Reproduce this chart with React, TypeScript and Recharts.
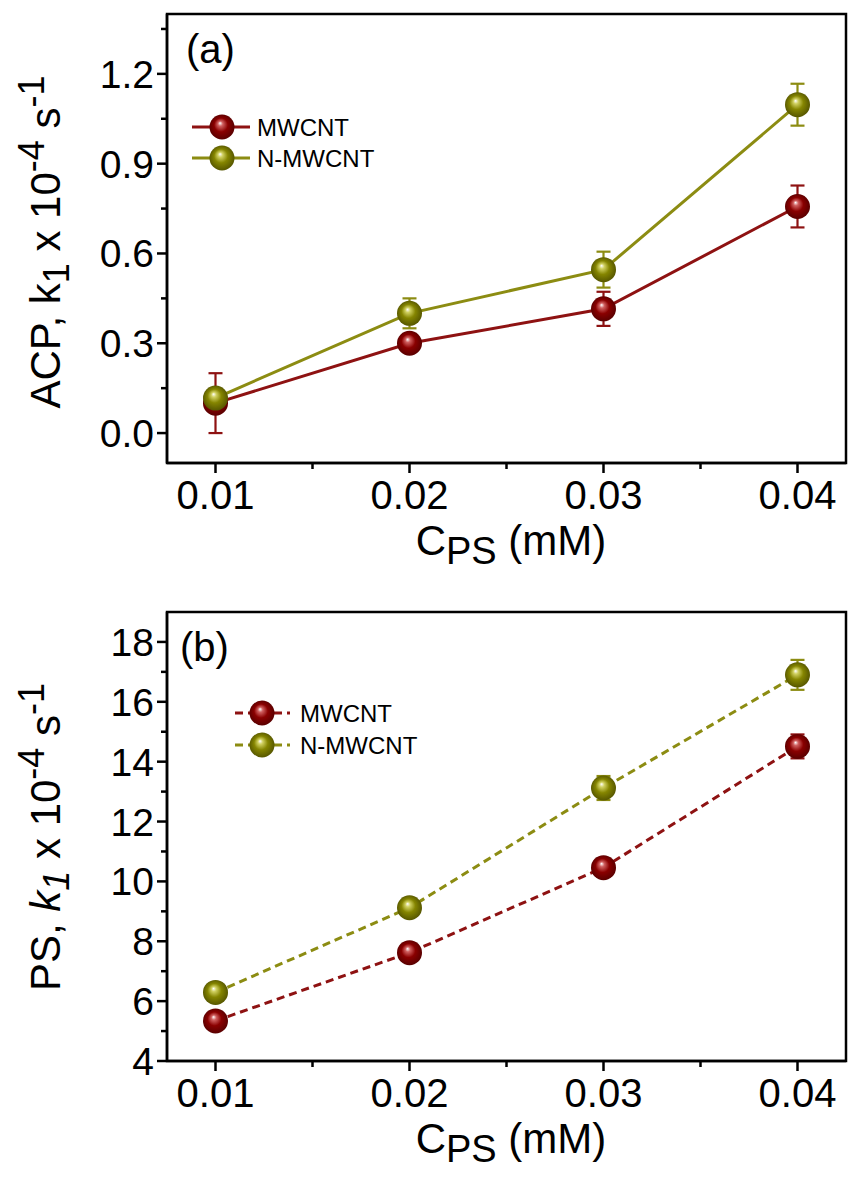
import React from 'react';
import { LineChart, Line, XAxis, YAxis, ErrorBar, ReferenceArea } from 'recharts';

// concentration of PS (mM)
const cps = [0.01, 0.02, 0.03, 0.04];

// (a) ACP, k1 x 10^-4 s^-1
const acpMwcnt = [0.1, 0.3, 0.415, 0.757];
const acpMwcntErr = [0.1, 0.02, 0.057, 0.07];
const acpNMwcnt = [0.117, 0.4, 0.546, 1.097];
const acpNMwcntErr = [0.02, 0.05, 0.06, 0.07];

// (b) PS, k1 x 10^-4 s^-1
const psMwcnt = [5.34, 7.62, 10.46, 14.51];
const psMwcntErr = [0.25, 0.25, 0.3, 0.4];
const psNMwcnt = [6.29, 9.12, 13.12, 16.9];
const psNMwcntErr = [0.25, 0.25, 0.4, 0.5];

const seriesNames = ['MWCNT', 'N-MWCNT'];

const xTicks = [0.01, 0.015, 0.02, 0.025, 0.03, 0.035, 0.04];
const xMajor = [0.01, 0.02, 0.03, 0.04];
const acpTicks = [0, 0.15, 0.3, 0.45, 0.6, 0.75, 0.9, 1.05, 1.2, 1.35];
const acpMajor = [0, 0.3, 0.6, 0.9, 1.2];
const psTicks = [4, 5, 6, 7, 8, 9, 10, 11, 12, 13, 14, 15, 16, 17, 18];
const psMajor = [4, 6, 8, 10, 12, 14, 16, 18];

const X_DOMAIN: [number, number] = [0.0075, 0.0425];
const W = 848;
const H = 595;
const PL = 167;
const PT = 14;
const PR = 846;
const PB = 463;
const FONT = '"Liberation Sans", Arial, Helvetica, sans-serif';
const RED = '#8e1212';
const OLIVE = '#8c8c12';
const RED_DOT = ['#ffffff', '#d06060', '#8a0000', '#520000'];
const OLIVE_DOT = ['#ffffff', '#d0d060', '#858500', '#4f4f00'];

const isMajor = (v: number, majors: number[]) => majors.some((m) => Math.abs(m - v) < 1e-9);

function Sphere({ cx, cy, id, stops }: { cx: number; cy: number; id: string; stops: string[] }) {
  return (
    <g>
      <defs>
        <radialGradient id={id} cx="0.5" cy="0.5" r="0.55" fx="0.42" fy="0.34">
          <stop offset="0" stopColor={stops[0]} />
          <stop offset="0.18" stopColor={stops[1]} />
          <stop offset="0.5" stopColor={stops[2]} />
          <stop offset="1" stopColor={stops[3]} />
        </radialGradient>
      </defs>
      <circle cx={cx} cy={cy} r={12.5} fill={`url(#${id})`} />
    </g>
  );
}

const makeXTick = () => (props: any) => {
  const { x, payload } = props;
  const v = payload.value as number;
  const major = isMajor(v, xMajor);
  return (
    <g>
      <line x1={x} x2={x} y1={PB} y2={PB + (major ? 10 : 6)} stroke="#000" strokeWidth={2.5} />
      {major && (
        <text x={x} y={PB + 46} textAnchor="middle" fontSize={40} fontFamily={FONT} fill="#000">
          {v.toFixed(2)}
        </text>
      )}
    </g>
  );
};

const makeYTick = (majors: number[], fmt: (v: number) => string) => (props: any) => {
  const { y, payload } = props;
  const v = payload.value as number;
  const major = isMajor(v, majors);
  return (
    <g>
      <line x1={PL} x2={PL - (major ? 10 : 6)} y1={y} y2={y} stroke="#000" strokeWidth={2.5} />
      {major && (
        <text x={154} y={y + 14} textAnchor="end" fontSize={39} fontFamily={FONT} fill="#000">
          {fmt(v)}
        </text>
      )}
    </g>
  );
};

const xTitle = () => (
  <text x={511} y={555} textAnchor="middle" fontSize={42} fontFamily={FONT} fill="#000">
    C
    <tspan fontSize={38} dy={9}>PS</tspan>
    <tspan fontSize={42} dy={-9}> (mM)</tspan>
  </text>
);

const yTitle = (prefix: string, italicK: boolean, cy: number) => () => (
  <text
    transform={`translate(60,${cy}) rotate(-90)`}
    textAnchor="middle"
    fontSize={42}
    fontFamily={FONT}
    fill="#000"
  >
    {prefix}
    <tspan fontStyle={italicK ? 'italic' : 'normal'}>k</tspan>
    <tspan fontSize={36} dy={9} fontStyle={italicK ? 'italic' : 'normal'}>1</tspan>
    <tspan fontSize={42} dy={-9}> x 10</tspan>
    <tspan fontSize={36} dy={-16}>-4</tspan>
    <tspan fontSize={42} dy={16}> s</tspan>
    <tspan fontSize={36} dy={-16}>-1</tspan>
  </text>
);

const panelDecor = (
  key: string,
  letter: string,
  dashed: boolean,
  lx: [number, number],
  mx: number,
  tx: number,
  ly: [number, number],
) => () => (
  <g fontFamily={FONT}>
    <text x={dashed ? 180 : 186} y={63} fontSize={40} fill="#000">
      {letter}
    </text>
    {seriesNames.map((name, i) => (
      <g key={name}>
        <line
          x1={lx[0]}
          x2={lx[1]}
          y1={ly[i]}
          y2={ly[i]}
          stroke={i === 0 ? RED : OLIVE}
          strokeWidth={3}
          strokeDasharray={dashed ? '8 5' : undefined}
        />
        <Sphere cx={mx} cy={ly[i]} id={`leg${key}${i}`} stops={i === 0 ? RED_DOT : OLIVE_DOT} />
        <text x={tx} y={ly[i] + 9} fontSize={24} fill="#000">
          {name}
        </text>
      </g>
    ))}
  </g>
);

interface PanelProps {
  id: string;
  mw: number[];
  mwErr: number[];
  nmw: number[];
  nmwErr: number[];
  yDomain: [number, number];
  yTicks: number[];
  yMajor: number[];
  fmt: (v: number) => string;
  letter: string;
  dashed: boolean;
  yPrefix: string;
  italicK: boolean;
  titleCy: number;
  legend: { lx: [number, number]; mx: number; tx: number; ly: [number, number] };
}

function Panel(p: PanelProps) {
  const rows = cps.map((x, i) => ({
    x,
    mw: p.mw[i],
    mwErr: p.mwErr[i],
    nmw: p.nmw[i],
    nmwErr: p.nmwErr[i],
  }));
  const frame = { stroke: '#000', strokeWidth: 2.5 };
  const dash = p.dashed ? '8 5' : undefined;
  return (
    <LineChart width={W} height={H} data={rows} margin={{ top: PT, right: W - PR, bottom: 0, left: 0 }}>
      <XAxis
        type="number"
        dataKey="x"
        domain={X_DOMAIN}
        ticks={xTicks}
        interval={0}
        height={H - PB}
        tickLine={false}
        axisLine={frame}
        tick={makeXTick()}
        allowDataOverflow
        label={xTitle}
      />
      <YAxis
        type="number"
        domain={p.yDomain}
        ticks={p.yTicks}
        interval={0}
        width={PL}
        tickLine={false}
        axisLine={frame}
        tick={makeYTick(p.yMajor, p.fmt)}
        allowDataOverflow
        label={yTitle(p.yPrefix, p.italicK, p.titleCy)}
      />
      <ReferenceArea
        x1={X_DOMAIN[0]}
        x2={X_DOMAIN[1]}
        y1={p.yDomain[0]}
        y2={p.yDomain[1]}
        fill="none"
        fillOpacity={0}
        stroke="#000"
        strokeWidth={2.5}
        ifOverflow="visible"
        label={panelDecor(p.id, p.letter, p.dashed, p.legend.lx, p.legend.mx, p.legend.tx, p.legend.ly)}
      />
      <Line
        dataKey="mw"
        stroke={RED}
        strokeWidth={3}
        strokeDasharray={dash}
        isAnimationActive={false}
        activeDot={false}
        dot={(d: any) => (
          <Sphere key={`mw${d.index}`} cx={d.cx} cy={d.cy} id={`mw${p.id}${d.index}`} stops={RED_DOT} />
        )}
      >
        <ErrorBar dataKey="mwErr" direction="y" width={7} stroke={RED} strokeWidth={2.2} isAnimationActive={false} />
      </Line>
      <Line
        dataKey="nmw"
        stroke={OLIVE}
        strokeWidth={3}
        strokeDasharray={dash}
        isAnimationActive={false}
        activeDot={false}
        dot={(d: any) => (
          <Sphere key={`nmw${d.index}`} cx={d.cx} cy={d.cy} id={`nmw${p.id}${d.index}`} stops={OLIVE_DOT} />
        )}
      >
        <ErrorBar dataKey="nmwErr" direction="y" width={7} stroke={OLIVE} strokeWidth={2.2} isAnimationActive={false} />
      </Line>
    </LineChart>
  );
}

export default function App() {
  return (
    <div style={{ position: 'absolute', left: 0, top: 0, width: W, height: 1189, background: '#fff' }}>
      <div style={{ position: 'absolute', left: 0, top: 0 }}>
        <Panel
          id="A"
          mw={acpMwcnt}
          mwErr={acpMwcntErr}
          nmw={acpNMwcnt}
          nmwErr={acpNMwcntErr}
          yDomain={[-0.1, 1.4]}
          yTicks={acpTicks}
          yMajor={acpMajor}
          fmt={(v) => v.toFixed(1)}
          letter="(a)"
          dashed={false}
          yPrefix="ACP, "
          italicK={false}
          titleCy={242}
          legend={{ lx: [192, 250], mx: 222, tx: 257, ly: [127, 158] }}
        />
      </div>
      <div style={{ position: 'absolute', left: 0, top: 598 }}>
        <Panel
          id="B"
          mw={psMwcnt}
          mwErr={psMwcntErr}
          nmw={psNMwcnt}
          nmwErr={psNMwcntErr}
          yDomain={[4, 19]}
          yTicks={psTicks}
          yMajor={psMajor}
          fmt={(v) => String(v)}
          letter="(b)"
          dashed={true}
          yPrefix="PS, "
          italicK={true}
          titleCy={239}
          legend={{ lx: [235, 290], mx: 262, tx: 300, ly: [115, 147] }}
        />
      </div>
    </div>
  );
}
